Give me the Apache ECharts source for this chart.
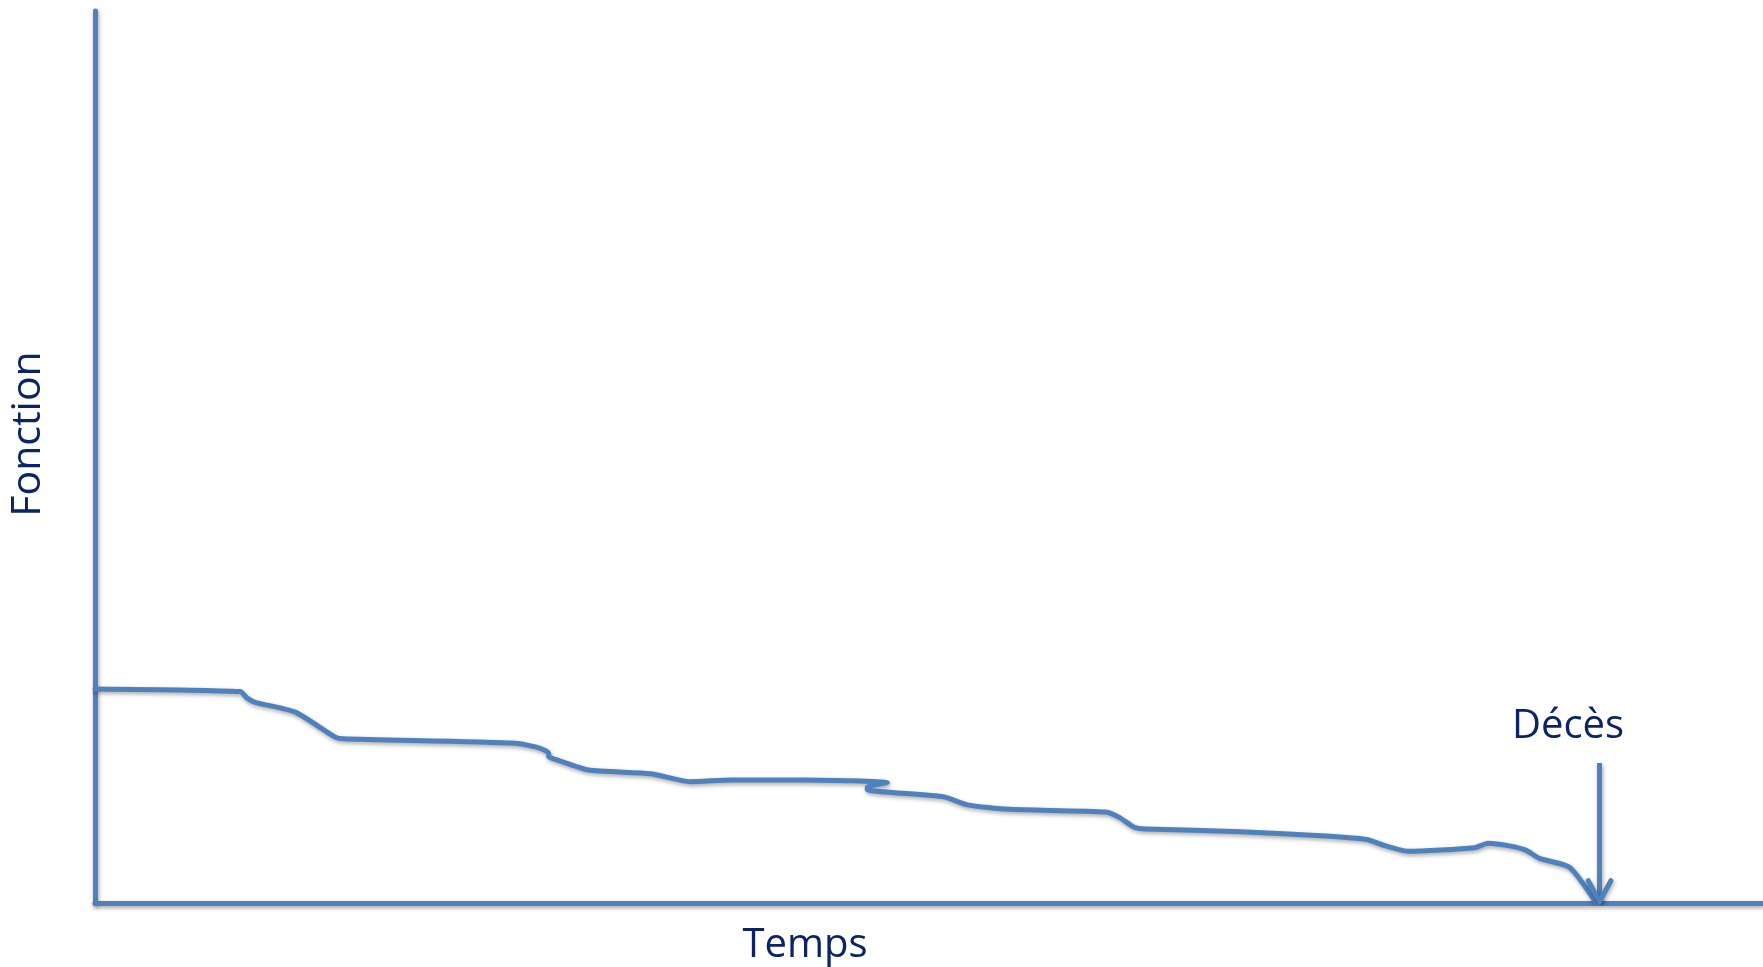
<!DOCTYPE html>
<html>
<head>
<meta charset="utf-8">
<script src="https://cdn.jsdelivr.net/npm/echarts@6/dist/echarts.min.js"></script>
<style>
html,body{margin:0;padding:0;background:#fff;}
#chart{width:1763px;height:967px;}
</style>
</head>
<body>
<div id="chart"></div>
<script>
// Data (x: time units 0-100, y: function units 0-100)
const timeValues = [0, 8.7, 9.1, 9.6, 12.0, 14.4, 14.9, 25.2, 26.6, 27.2, 27.2, 27.6, 29.6, 33.3, 35.7, 38.1, 42.6, 47.5, 46.3, 46.3, 50.9, 52.3, 54.8, 60.6, 61.4, 62.3, 63.0, 68.7, 73.8, 76.3, 77.2, 78.7, 82.7, 83.5, 84.8, 85.8, 86.6, 88.4, 90.0];
const functionValues = [24.0, 23.7, 23.0, 22.5, 21.4, 18.6, 18.4, 17.9, 17.4, 16.8, 16.4, 16.1, 14.9, 14.5, 13.6, 13.8, 13.8, 13.5, 13.0, 12.7, 11.9, 11.0, 10.5, 10.2, 9.6, 8.5, 8.3, 8.0, 7.5, 7.1, 6.5, 5.8, 6.2, 6.7, 6.4, 5.9, 5.0, 4.0, 0.0];
const deathTime = [90.2];
const arrowTop = [15.7];
const xAxisName = 'Temps';
const yAxisName = 'Fonction';
const eventLabel = 'Décès';

const blue = '#4F81BD';
const textColor = '#0A2466';
const shadow = {shadowColor: 'rgba(0,0,0,0.35)', shadowBlur: 4, shadowOffsetX: 1, shadowOffsetY: 2};

const curve = timeValues.map((t, i) => [t, functionValues[i]]);
const arrowShaft = [[deathTime[0], arrowTop[0]], [deathTime[0], 0.15]];
const headW = 0.68, headH = 2.5;
const arrowHead = [[deathTime[0] - headW, headH], [deathTime[0], 0.15], [deathTime[0] + headW, headH]];

const chart = echarts.init(document.getElementById('chart'), null, {renderer: 'canvas'});
const font = '"Open Sans", "Noto Sans", sans-serif';
chart.setOption({
  animation: false,
  backgroundColor: '#ffffff',
  grid: {left: 95, right: 0, top: 11, bottom: 64},
  xAxis: {
    type: 'value', min: 0, max: 100,
    axisLine: {show: true, onZero: false, lineStyle: Object.assign({color: blue, width: 5}, shadow)},
    axisTick: {show: false}, axisLabel: {show: false}, splitLine: {show: false}
  },
  yAxis: {
    type: 'value', min: 0, max: 100,
    axisLine: {show: true, onZero: false, lineStyle: Object.assign({color: blue, width: 5}, shadow)},
    axisTick: {show: false}, axisLabel: {show: false}, splitLine: {show: false}
  },
  series: [
    {
      type: 'line', data: curve, symbol: 'none', smooth: 0.2,
      lineStyle: Object.assign({color: blue, width: 5, cap: 'round', join: 'round'}, shadow)
    },
    {
      type: 'line', data: arrowShaft, symbol: 'none',
      lineStyle: Object.assign({color: blue, width: 5, cap: 'butt'}, shadow)
    },
    {
      type: 'line', data: arrowHead, symbol: 'none',
      lineStyle: Object.assign({color: blue, width: 5, cap: 'round', join: 'miter'}, shadow)
    }
  ],
  graphic: [
    {type: 'text', x: 805, y: 946, style: {text: xAxisName, font: '40px ' + font, fill: textColor, align: 'center', verticalAlign: 'middle'}},
    {type: 'text', x: 1568, y: 727, style: {text: eventLabel, font: '40px ' + font, fill: textColor, align: 'center', verticalAlign: 'middle'}},
    {type: 'text', x: 28, y: 434, rotation: Math.PI / 2, style: {text: yAxisName, font: '41px ' + font, fill: textColor, align: 'center', verticalAlign: 'middle'}}
  ]
});
</script>
</body>
</html>
